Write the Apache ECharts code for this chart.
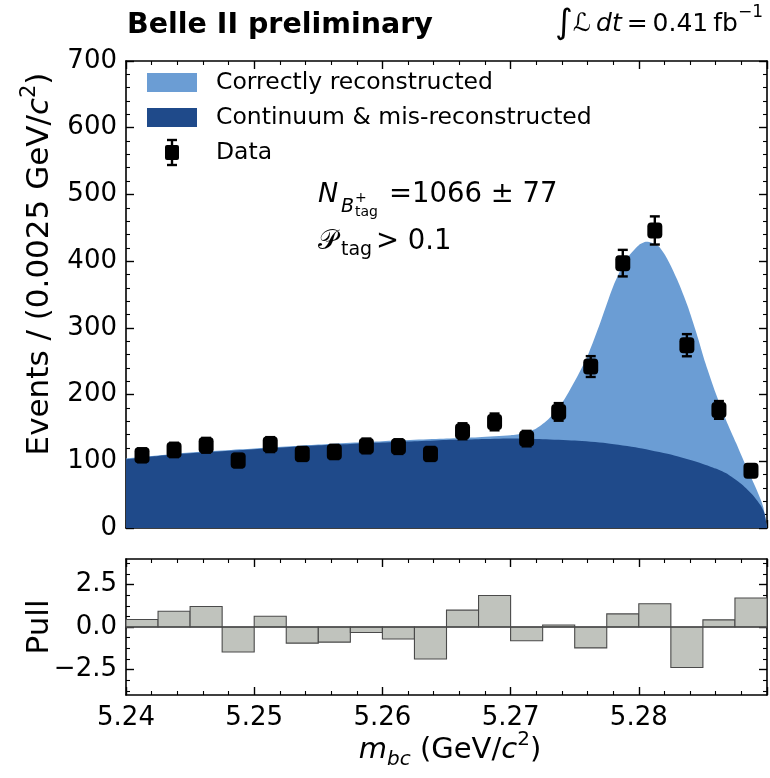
<!DOCTYPE html>
<html>
<head>
<meta charset="utf-8">
<script src="https://cdn.jsdelivr.net/npm/echarts@6/dist/echarts.min.js"></script>
<style>
  html, body { margin: 0; padding: 0; background: #ffffff; }
  #chart { width: 770px; height: 778px; }
</style>
</head>
<body>
<div id="chart"></div>
<script>
// Beam-constrained mass fit: binned data, fitted components and pulls
const binCenters = [5.24125, 5.24375, 5.24625, 5.24875, 5.25125, 5.25375, 5.25625, 5.25875, 5.26125, 5.26375,
                    5.26625, 5.26875, 5.27125, 5.27375, 5.27625, 5.27875, 5.28125, 5.28375, 5.28625, 5.28875];
const binWidth = 0.0025;
const dataCounts = [109, 117, 124, 101, 125, 111, 114, 123, 122, 111,
                    145, 159, 134, 174, 242, 397, 446, 274, 177, 86];
const dataErrors = [10.4, 10.8, 11.1, 10.0, 11.2, 10.5, 10.7, 11.1, 11.0, 10.5,
                    12.0, 12.6, 11.6, 13.2, 15.6, 19.9, 21.1, 16.6, 13.3, 9.3];
const pullValues = [0.44, 0.93, 1.21, -1.47, 0.63, -0.95, -0.89, -0.32, -0.71, -1.88,
                    0.99, 1.85, -0.81, 0.12, -1.23, 0.77, 1.37, -2.38, 0.42, 1.71];

// Continuum & mis-reconstructed component (ARGUS-like shape)
const bkgMass  = [5.240, 5.2425, 5.245, 5.2475, 5.250, 5.2525, 5.255, 5.2575, 5.260, 5.2625, 5.265, 5.2675,
                  5.270, 5.2725, 5.275, 5.2775, 5.280, 5.2825, 5.285, 5.286, 5.287, 5.288, 5.2885, 5.289,
                  5.2895, 5.2898, 5.290];
const bkgCurve = [103, 108, 112, 115, 118, 121, 124, 126, 128, 130, 132, 133,
                  134, 133, 131, 127, 120, 110, 96, 89, 80, 66, 57, 47,
                  34, 22, 0];

// Total fit (correctly reconstructed signal on top of the background)
const totalMass  = [5.240, 5.245, 5.250, 5.255, 5.260, 5.265, 5.2675, 5.270, 5.271, 5.272, 5.273, 5.274,
                    5.275, 5.276, 5.277, 5.278, 5.279, 5.280, 5.2806, 5.2815, 5.2822, 5.283, 5.2838, 5.2845,
                    5.2852, 5.286, 5.2868, 5.2876, 5.2884, 5.2892, 5.2897, 5.290];
const totalCurve = [104, 113, 119, 125, 130, 134, 136, 139, 142, 149, 164, 187,
                    220, 258, 308, 362, 402, 424, 429, 423, 404, 372, 333, 292,
                    247, 202, 162, 127, 91, 57, 32, 0];

const pullTicks = [-2.5, 0, 2.5];
const pullMinorTicks = [-3.75, -3.125, -1.875, -1.25, -0.625, 0.625, 1.25, 1.875, 3.125, 3.75];

const FONT = 'DejaVu Sans';
const LIGHT = '#6b9dd4';
const DARK = '#1f4a8a';

const chart = echarts.init(document.getElementById('chart'), null, { renderer: 'canvas' });

const zip = (xs, ys) => xs.map((x, i) => [x, ys[i]]);

const frameLine = { show: true, onZero: false, lineStyle: { color: '#000', width: 1.6 } };
const majorTick = { show: true, inside: true, length: 8, lineStyle: { color: '#000', width: 1.4 } };
const minorTickStyle = { show: true, length: 4, lineStyle: { color: '#000', width: 1.1 } };

function massAxis(grid, pos, labels) {
  return {
    type: 'value', gridIndex: grid, position: pos,
    min: 5.24, max: 5.29, interval: 0.01,
    axisLine: frameLine,
    axisTick: majorTick,
    minorTick: Object.assign({ splitNumber: 5 }, minorTickStyle),
    splitLine: { show: false },
    axisLabel: labels ? {
      show: true, fontFamily: FONT, fontSize: 26, color: '#000', margin: 10,
      showMaxLabel: false,
      formatter: v => v.toFixed(2)
    } : { show: false }
  };
}

function countAxis(pos, labels) {
  return {
    type: 'value', gridIndex: 0, position: pos,
    min: 0, max: 700, interval: 100,
    axisLine: frameLine,
    axisTick: majorTick,
    minorTick: Object.assign({ splitNumber: 5 }, minorTickStyle),
    splitLine: { show: false },
    axisLabel: labels ? { show: true, fontFamily: FONT, fontSize: 26, color: '#000', margin: 9 } : { show: false }
  };
}

function pullAxis(pos, labels) {
  return {
    type: 'value', gridIndex: 1, position: pos,
    min: -4, max: 4,
    axisLine: frameLine,
    axisTick: Object.assign({ customValues: pullTicks }, majorTick),
    splitLine: { show: false },
    axisLabel: labels ? {
      show: true, customValues: pullTicks, fontFamily: FONT, fontSize: 26, color: '#000', margin: 9,
      formatter: v => (v < 0 ? '\u2212' + Math.abs(v).toFixed(1) : v.toFixed(1))
    } : { show: false }
  };
}

function pullMinorAxis(pos) {
  return {
    type: 'value', gridIndex: 1, position: pos,
    min: -4, max: 4,
    axisLine: { show: false },
    axisTick: { show: true, inside: true, length: 4, customValues: pullMinorTicks, lineStyle: { color: '#000', width: 1.1 } },
    axisLabel: { show: false },
    splitLine: { show: false }
  };
}

// Error bars with caps drawn through the axis scales
function renderErrorBar(params, api) {
  const x = api.value(0), y = api.value(1), e = api.value(2);
  const top = api.coord([x, y + e]);
  const bot = api.coord([x, y - e]);
  const cap = 5;
  const style = { stroke: '#000', lineWidth: 2.4 };
  return {
    type: 'group',
    children: [
      { type: 'line', shape: { x1: top[0], y1: top[1], x2: bot[0], y2: bot[1] }, style },
      { type: 'line', shape: { x1: top[0] - cap, y1: top[1], x2: top[0] + cap, y2: top[1] }, style },
      { type: 'line', shape: { x1: bot[0] - cap, y1: bot[1], x2: bot[0] + cap, y2: bot[1] }, style }
    ]
  };
}

// Pull histogram bins
function renderPull(params, api) {
  const c = api.value(0), p = api.value(1);
  const a = api.coord([c - binWidth / 2, 0]);
  const b = api.coord([c + binWidth / 2, p]);
  return {
    type: 'rect',
    shape: { x: a[0], y: Math.min(a[1], b[1]), width: b[0] - a[0], height: Math.abs(b[1] - a[1]) },
    style: { fill: '#c0c3bd', stroke: '#4a4a4a', lineWidth: 1.1 }
  };
}

const annoStyle = { fontFamily: FONT, fill: '#000' };

const option = {
  animation: false,
  backgroundColor: '#ffffff',
  grid: [
    { left: 126, top: 61, width: 641, height: 467 },
    { left: 126, top: 559, width: 641, height: 136 }
  ],
  xAxis: [
    massAxis(0, 'bottom', false),
    massAxis(0, 'top', false),
    massAxis(1, 'bottom', true),
    massAxis(1, 'top', false)
  ],
  yAxis: [
    countAxis('left', true),
    countAxis('right', false),
    pullAxis('left', true),
    pullAxis('right', false),
    pullMinorAxis('left'),
    pullMinorAxis('right')
  ],
  series: [
    {
      name: 'Correctly reconstructed', type: 'line', xAxisIndex: 0, yAxisIndex: 0,
      data: zip(totalMass, totalCurve), smooth: 0.25, showSymbol: false,
      lineStyle: { width: 0 }, areaStyle: { color: LIGHT, opacity: 1 }, z: 1
    },
    {
      name: 'Continuum & mis-reconstructed', type: 'line', xAxisIndex: 0, yAxisIndex: 0,
      data: zip(bkgMass, bkgCurve), smooth: 0.25, showSymbol: false,
      lineStyle: { width: 0 }, areaStyle: { color: DARK, opacity: 1 }, z: 2
    },
    {
      name: 'Data errors', type: 'custom', xAxisIndex: 0, yAxisIndex: 0,
      data: binCenters.map((c, i) => [c, dataCounts[i], dataErrors[i]]),
      renderItem: renderErrorBar, z: 3
    },
    {
      name: 'Data', type: 'scatter', xAxisIndex: 0, yAxisIndex: 0,
      data: zip(binCenters, dataCounts), symbol: 'roundRect', symbolSize: [15, 16],
      itemStyle: { color: '#000', opacity: 1 }, z: 4
    },
    {
      name: 'Pull', type: 'custom', xAxisIndex: 2, yAxisIndex: 2,
      data: zip(binCenters, pullValues), renderItem: renderPull, z: 2,
      markLine: {
        silent: true, symbol: 'none', label: { show: false },
        lineStyle: { color: '#4a4a4a', width: 1.5, type: 'solid' },
        data: [{ yAxis: 0 }]
      }
    }
  ],
  graphic: [
    // header
    { type: 'text', left: 127, top: 11, style: { text: 'Belle II preliminary', fontFamily: FONT, fontWeight: 'bold', fontSize: 28.5, fill: '#000' } },
    { type: 'text', x: 763, y: 24, style: {
        text: '{int|\u222B}{L|\u2112}{n|\u2009}{i|dt}{n|\u2009=\u20090.41\u2009fb}{s|\u22121}',
        align: 'right', verticalAlign: 'middle', fontFamily: FONT, fill: '#000',
        rich: {
          int: { fontFamily: FONT, fontSize: 34, lineHeight: 40 },
          L: { fontFamily: FONT, fontSize: 25, lineHeight: 40 },
          i: { fontFamily: FONT, fontSize: 25, fontStyle: 'italic', lineHeight: 40 },
          n: { fontFamily: FONT, fontSize: 25, lineHeight: 40 },
          s: { fontFamily: FONT, fontSize: 17, verticalAlign: 'top', lineHeight: 22 }
        } } },
    // legend
    { type: 'rect', shape: { x: 147, y: 73, width: 50, height: 19 }, style: { fill: LIGHT } },
    { type: 'rect', shape: { x: 147, y: 108, width: 50, height: 19 }, style: { fill: DARK } },
    { type: 'line', shape: { x1: 172, y1: 140, x2: 172, y2: 165 }, style: { stroke: '#000', lineWidth: 2.4 } },
    { type: 'line', shape: { x1: 167, y1: 140, x2: 177, y2: 140 }, style: { stroke: '#000', lineWidth: 2.4 } },
    { type: 'line', shape: { x1: 167, y1: 165, x2: 177, y2: 165 }, style: { stroke: '#000', lineWidth: 2.4 } },
    { type: 'rect', shape: { x: 165, y: 145, width: 14, height: 15, r: 2 }, style: { fill: '#000' } },
    { type: 'text', x: 216, y: 83, style: { text: 'Correctly reconstructed', verticalAlign: 'middle', fontFamily: FONT, fontSize: 23.5, fill: '#000' } },
    { type: 'text', x: 216, y: 118, style: { text: 'Continuum & mis-reconstructed', verticalAlign: 'middle', fontFamily: FONT, fontSize: 23.5, fill: '#000' } },
    { type: 'text', x: 216, y: 153, style: { text: 'Data', verticalAlign: 'middle', fontFamily: FONT, fontSize: 23.5, fill: '#000' } },
    // fit annotations
    { type: 'text', x: 318, y: 195, style: Object.assign({ text: 'N', fontSize: 27, fontStyle: 'italic', verticalAlign: 'middle' }, annoStyle) },
    { type: 'text', x: 341, y: 207, style: Object.assign({ text: 'B', fontSize: 19, fontStyle: 'italic', verticalAlign: 'middle' }, annoStyle) },
    { type: 'text', x: 355, y: 198, style: Object.assign({ text: '+', fontSize: 14, verticalAlign: 'middle' }, annoStyle) },
    { type: 'text', x: 355, y: 212, style: Object.assign({ text: 'tag', fontSize: 14, verticalAlign: 'middle' }, annoStyle) },
    { type: 'text', x: 389, y: 195, style: Object.assign({ text: '=1066 \u00B1 77', fontSize: 27.5, verticalAlign: 'middle' }, annoStyle) },
    { type: 'text', x: 318, y: 242, style: Object.assign({ text: '\uD835\uDCAB', fontSize: 27, verticalAlign: 'middle' }, annoStyle) },
    { type: 'text', x: 341, y: 250, style: Object.assign({ text: 'tag', fontSize: 19, verticalAlign: 'middle' }, annoStyle) },
    { type: 'text', x: 376, y: 242, style: Object.assign({ text: '> 0.1', fontSize: 27.5, verticalAlign: 'middle' }, annoStyle) },
    // axis titles
    { type: 'text', x: 40, y: 264, rotation: Math.PI / 2, style: {
        text: '{n|Events / (0.0025 GeV/}{i|c}{s|2}{n|)}',
        align: 'center', verticalAlign: 'middle', fill: '#000',
        rich: {
          n: { fontFamily: FONT, fontSize: 31, lineHeight: 42 },
          i: { fontFamily: FONT, fontSize: 31, fontStyle: 'italic', lineHeight: 42 },
          s: { fontFamily: FONT, fontSize: 21, verticalAlign: 'top', lineHeight: 22 }
        } } },
    { type: 'text', x: 40, y: 627, rotation: Math.PI / 2, style: {
        text: 'Pull', align: 'center', verticalAlign: 'middle', fontFamily: FONT, fontSize: 31, fill: '#000' } },
    { type: 'text', x: 450, y: 750, style: {
        text: '{i|m}{b|bc}{n| (GeV/}{i|c}{s|2}{n|)}',
        align: 'center', verticalAlign: 'middle', fill: '#000',
        rich: {
          i: { fontFamily: FONT, fontSize: 29, fontStyle: 'italic', lineHeight: 40 },
          n: { fontFamily: FONT, fontSize: 29, lineHeight: 40 },
          b: { fontFamily: FONT, fontSize: 20, fontStyle: 'italic', verticalAlign: 'bottom', lineHeight: 23 },
          s: { fontFamily: FONT, fontSize: 20, verticalAlign: 'top', lineHeight: 21 }
        } } }
  ]
};

chart.setOption(option);
</script>
</body>
</html>
